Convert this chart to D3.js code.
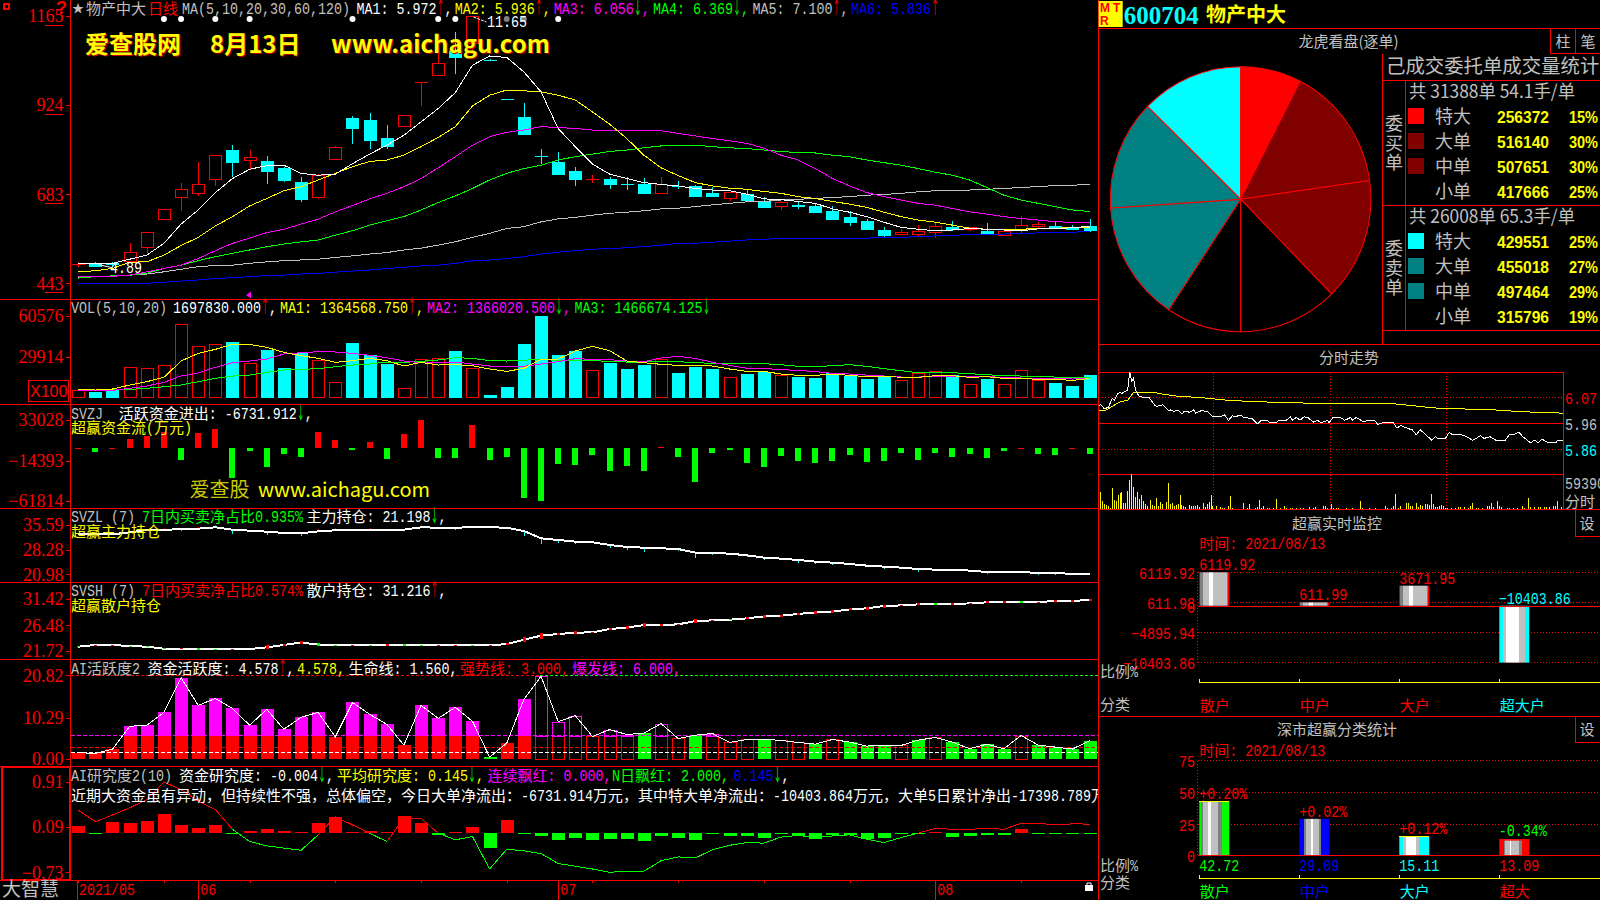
<!DOCTYPE html>
<html><head><meta charset="utf-8">
<style>html,body{margin:0;padding:0;background:#000;overflow:hidden}svg{display:block}text{white-space:pre}</style>
<script src="https://cdn.jsdelivr.net/npm/d3@7/dist/d3.min.js"></script>
</head><body><div id="c"></div>
<script>
// ---------- daily K line (price in 0.01 yuan, same unit as the chart's tick labels)
const candleOpen=[495,500,500,504,542,618,677,688,726,807,777,775,757,718,677,780,892,886,838,869,988,1006,1073,1091,1048,942,894,787,772,749,725,727,713,714,688,708,708,690,674,688,668,653,657,654,641,625,614,590,576,577,582,598,589,587,573,586,598,600,596,600];
const candleClose=[495,490,494,528,582,645,699,712,789,771,783,746,722,671,736,812,862,830,814,898,988,1037,1053,1165,1047,941,846,787,738,725,725,711,712,687,710,707,679,679,690,668,649,663,652,636,617,609,590,574,582,583,597,590,594,576,583,600,603,595,590,587];
const candleHigh=[501,501,501,551,582,645,713,771,789,816,803,787,758,729,738,814,895,902,870,898,988,1068,1122,1165,1048,942,930,806,798,756,736,730,729,727,729,720,708,704,690,695,675,665,665,659,651,637,617,595,590,600,605,611,594,606,589,625,609,609,600,617];
const candleLow=[488,488,488,504,524,616,639,680,707,731,749,711,717,663,672,776,820,806,807,868,922,1004,1008,1068,1047,941,846,765,738,707,713,698,695,684,684,698,679,679,665,668,646,641,644,636,614,598,587,565,573,568,565,585,583,574,571,580,592,590,587,582];
const candleUp=[1,0,0,1,1,1,1,1,1,0,1,0,0,0,1,1,0,0,0,1,1,1,0,1,0,0,0,0,0,0,1,0,0,0,1,0,0,0,1,0,0,1,0,0,0,0,0,0,1,1,1,0,1,0,1,1,1,0,0,0];
const ma1=[497,497,497,508,519,551,603,641,688,726,751,761,762,740,735,738,766,792,816,843,879,915,958,1032,1057,1053,1014,960,861,812,765,738,726,715,710,706,699,695,693,684,671,669,664,659,644,635,623,608,594,589,585,587,591,589,587,585,590,591,593,597];
const ma2=[474,477,483,500,501,519,545,567,598,623,652,672,693,704,722,740,758,772,776,789,812,837,866,922,951,965,963,960,951,938,906,873,834,789,755,734,715,706,700,697,691,686,677,672,664,657,648,635,623,614,608,600,592,589,589,589,591,592,593,594];
const ma3=[461,461,462,465,474,483,492,510,531,551,565,580,589,603,616,636,653,671,686,704,726,755,785,816,839,851,857,866,864,861,857,857,856,856,855,848,841,834,828,821,808,789,776,753,726,706,688,677,668,659,654,645,636,630,623,618,614,609,608,606];
const ma4=[457,461,463,465,470,483,492,504,515,524,533,542,549,555,560,573,585,600,612,623,641,661,679,699,722,740,753,762,776,785,792,799,803,809,814,816,816,812,809,807,803,799,796,795,789,785,776,769,762,753,743,735,722,702,681,668,659,650,641,637];
const ma5=[458,461,463,465,468,474,481,488,491,492,497,501,504,506,508,513,517,522,526,533,538,546,555,567,578,591,596,609,617,621,627,632,635,639,644,646,650,655,659,663,664,668,670,672,675,677,681,683,686,690,693,694,695,697,699,702,704,707,708,710];
const ma6=[443,443,443,443,443,446,449,452,456,458,461,464,465,468,470,473,476,479,483,486,490,492,497,504,506,510,515,522,527,531,535,537,539,542,546,551,551,554,557,560,562,564,564,564,564,565,565,567,567,569,571,573,574,575,576,578,579,580,581,583];
const starBars=[5,6,8,10,16,21,22,28];
const greyStarBars=[25,26];
const mainTicks=[1165,924,683,443];
// ---------- volume
const volume=[5000,4000,6250,22000,21250,23500,54250,37750,39250,41750,25000,35750,22250,33250,27250,10750,40750,32000,25000,6250,28000,28750,34750,21250,2000,8000,40250,61250,32000,35000,19750,26250,21500,24500,28000,18500,23000,21500,14500,17750,19000,16000,15500,14750,18500,16000,14000,15250,12250,17500,19000,16750,9250,14000,9250,19750,12250,11000,8750,16978];
const volMa1=[5500,5000,5750,8750,11250,14500,26750,32500,35500,39250,39250,37000,33250,30750,28750,25750,27000,28750,27000,23000,25750,23750,24000,23250,20750,19000,21250,28000,28250,34250,37750,34500,26750,25500,24250,23500,23500,23000,20750,19000,19000,17000,16000,16000,17000,16000,15000,15500,14500,14500,15750,15750,14500,15000,13750,13750,13000,13000,12250,13646];
const volMa2=[5000,4750,4750,6250,8000,10750,15500,17750,22000,25500,26750,28250,32000,33000,33750,33500,32500,31000,29250,26750,25500,26000,26000,24500,23000,22750,22750,24500,26250,28500,28000,27750,26750,26250,29000,30250,28750,25750,23500,21250,21250,20250,19750,18750,17500,17000,16250,15500,14750,14750,15000,15000,15000,15000,14500,14000,13500,13500,13250,13660];
const volMa3=[4500,4750,5000,5500,6250,7500,8750,11250,13750,15500,16250,18250,20000,20500,21000,22500,23750,24500,26000,25750,26500,27500,29250,28750,27000,26750,27250,28250,27000,27000,27000,26500,26000,26000,26250,26250,25500,25000,24750,24750,24750,24000,22750,22500,23250,24000,22750,21000,19500,18000,18000,18000,17250,16500,15750,15500,15000,14750,14250,14667];
const volTicks=[60576,29914];
// ---------- SVZJ
const svzj=[776,-4656,776,10864,14356,19012,-13580,17848,22504,-34532,-3104,-21728,-6596,-10088,19012,9700,-2328,7372,-12804,16684,32980,-11640,-11640,27160,-13968,-10476,-58200,-61304,-18624,-19788,-8148,-26772,-20952,-26772,1552,-10476,-39576,-5820,-2328,-17460,-22116,-9312,-15132,-17460,-15132,-8148,-16296,-15132,-5820,-13968,-5820,-10476,-6984,-11640,-3492,388,-6984,-8148,388,-6732];
const svzjTicks=[33028,-14393,-61814];
// ---------- SVZL / SVSH
const svzl=[32.83,32.83,32.83,33.42,34.11,34.21,34.31,34.50,34.90,34.21,33.91,33.62,33.22,33.12,33.71,34.01,34.11,34.21,34.11,34.21,34.90,34.80,34.70,35.10,34.90,34.80,33.81,31.64,31.15,30.66,30.46,29.67,29.08,28.88,28.68,28.48,27.40,27.30,27.10,26.61,25.92,25.62,25.23,24.73,24.44,24.04,23.55,23.25,22.96,22.56,22.36,22.36,22.07,21.67,21.67,21.67,21.38,21.38,21.08,21.198];
const svzlDelta=[0,0,0,0,0,.6,-.6,.6,.6,-1.2,0,-.9,0,-.7,.6,.6,-.3,.5,-.4,0,.8,-.4,-.5,.3,-.3,0,-1.5,-1.6,-.8,-.8,0,-.8,-.8,-1.2,.2,-.5,-1.5,-.6,-.3,-.4,-.8,-.5,-.8,-.8,-.8,-.3,-.3,-.8,-.3,-.8,-.3,-.5,-.5,-.6,-.3,.2,-.5,-.5,.2,0];
const svzlTicks=[35.59,28.28,20.98];
const svsh=[22.52,22.83,22.83,22.64,22.52,22.15,22.15,22.09,22.03,22.03,22.09,22.40,22.83,23.32,22.89,22.77,22.77,22.77,22.77,22.77,22.77,22.77,22.77,22.77,22.77,23.01,23.82,24.56,24.87,25.12,25.18,25.80,26.04,26.54,26.54,26.66,27.28,27.40,27.53,27.77,28.14,28.27,28.58,28.89,29.01,29.44,29.63,30.06,30.18,30.37,30.37,30.43,30.55,30.74,30.80,30.80,30.80,30.99,30.99,31.216];
const svshDelta=[-.12,.06,.06,-.12,-.3,-.2,.2,-.2,-.3,.3,0,.7,.2,.5,-.5,-.2,.2,-.3,.35,-.35,-.3,.3,.3,-.3,.2,.3,.85,1.1,.35,.55,.3,.55,.5,.8,.2,.3,.9,.3,-.2,.35,.55,.35,.35,.5,.55,.35,.55,.55,.3,.35,-.35,.35,.2,.35,.35,-.35,.2,.35,.35,.35];
const svshTicks=[31.42,26.48,21.72];
// ---------- AI activity
const activity=[1.56,1.40,2.47,8.15,8.39,11.60,20.25,13.33,15.06,12.59,8.39,12.35,7.41,10.37,11.60,5.51,14.07,11.11,8.64,3.46,13.33,10.12,12.84,9.38,0.49,3.95,14.81,20.58,9.30,10.78,5.60,7.32,6.09,6.42,8.81,5.10,5.93,6.34,4.12,4.86,4.94,4.61,4.12,3.70,4.86,4.20,3.21,3.46,3.37,4.69,5.35,4.20,2.55,3.70,2.55,5.84,3.46,2.96,2.47,4.578];
const activityKind="ssssssssssssssssssssssss"+"g"+"ss"+"hhhhhh"+"g"+"hh"+"g"+"hhh"+"g"+"hh"+"g"+"h"+"ggg"+"h"+"g"+"h"+"gggg"+"h"+"gggg";
const activityTicks=[20.82,10.29,0];
const burstLevel=5.84, strongLevel=2.88, lifeLevel=1.65, topLevel=20.82;
// ---------- AI research
const researchLine=[.40,.19,.31,.44,.59,.91,.77,.56,.41,.05,-.17,-.25,-.29,-.33,-.05,.28,.13,-.02,-.17,.25,.25,-.02,-.14,-.08,-.67,-.31,-.34,-.39,-.57,-.62,-.67,-.73,-.71,-.71,-.52,-.45,-.47,-.32,-.24,-.19,-.20,-.09,-.06,-.10,-.07,-.05,-.13,-.19,-.10,-.02,.07,.05,.05,.07,.05,.16,.16,.13,.15,.145];
const researchBars=[.138,-.006,.21,.192,.228,.354,.156,.102,.156,-.006,.048,.084,.048,.03,.192,.3,.03,.048,.03,.318,.192,-.03,.03,.12,-.258,.246,-.006,-.048,-.12,-.084,-.12,-.102,-.102,-.138,-.048,-.084,-.12,-.018,-.048,-.048,-.084,-.006,-.048,-.102,-.03,-.03,-.102,-.084,-.006,-.018,.03,-.072,-.048,-.03,-.03,.072,-.006,-.018,-.018,-.006];
const researchBase=-.024;
const researchTicks=[.91,.09,-.73];
// ---------- date axis
const dateBars=[0,7,28,50];
const dateLabels=["2021/05","06","07","08"];
// ---------- order pie
const pieNames=["特大","大单","中单","小单"];
const buyOrders=[256372,516140,507651,417666];
const buyPct=["15%","30%","30%","25%"];
const sellOrders=[429551,455018,497464,315796];
const sellPct=["25%","27%","29%","19%"];
// ---------- intraday
const priceMin=[0,1,3,5,7,8,10,11,12,15,16,17,18,19,21,26,29,30,33,36,37,39,41,43,44,47,49,50,53,56,59,63,65,67,69,71,73,75,79,82,84,87,88,92,93,97,99,100,102,104,106,108,111,113,115,118,119,121,125,127,130,131,133,137,139,143,144,147,152,154,156,159,162,164,166,168,172,174,175,179,181,183,186,189,193,195,197,199,202,205,210,212,214,217,219,223,225,227,229,232,236,237,240];
const priceVal=[6.034,6.041,6.023,6.03,6.065,6.058,6.086,6.09,6.086,6.10,6.173,6.135,6.149,6.10,6.072,6.069,6.037,6.033,6.04,6.016,6.019,6.013,6.019,6.002,6.013,6.01,6.019,6.006,6.016,6.013,5.991,5.991,5.999,5.977,5.995,5.992,5.999,5.988,5.985,5.963,5.977,5.977,5.97,5.97,5.978,5.978,5.991,5.978,5.988,5.978,5.991,5.988,5.97,5.977,5.967,5.977,5.967,5.989,5.988,5.977,5.988,5.978,5.989,5.97,5.977,5.974,5.96,5.968,5.968,5.946,5.956,5.946,5.938,5.918,5.939,5.925,5.897,5.911,5.904,5.904,5.928,5.918,5.921,5.915,5.897,5.904,5.915,5.904,5.911,5.897,5.897,5.918,5.918,5.929,5.911,5.886,5.897,5.886,5.901,5.886,5.886,5.897,5.893];
const avgMin=[0,4,7,11,15,18,28,33,40,54,68,83,99,123,152,161,173,188,203,212,224,240];
const avgVal=[6.016,6.019,6.034,6.051,6.058,6.09,6.09,6.083,6.075,6.068,6.057,6.052,6.048,6.044,6.044,6.037,6.027,6.023,6.02,6.015,6.01,6.006];
const tickMin=[1,2,3,4,5,6,7,8,9,10,11,12,13,14,15,16,17,18,19,20,21,22,23,24,25,27,28,29,30,31,32,33,35,36,37,38,39,40,41,42,43,44,45,47,48,49,50,51,52,54,55,56,57,58,59,61,63,64,65,67,68,69,75,77,78,81,82,83,84,85,87,88,90,92,94,96,97,99,100,102,104,106,109,111,112,116,117,118,120,121,123,124,128,131,135,136,140,143,148,149,151,152,153,155,156,159,160,161,162,164,165,166,167,169,170,171,172,173,174,175,176,177,178,179,180,182,184,186,187,189,191,192,193,195,196,198,201,202,203,204,206,207,208,211,212,214,216,219,220,222,223,225,227,228,230,231,233,235,236,237,239];
const tickVol=[28300,14200,8500,6800,4500,2300,35100,15800,14200,23800,26600,28300,10200,10200,31100,49200,59400,36800,19800,28300,17000,23800,13600,9100,5700,15800,6800,4500,18700,4500,12500,8500,11300,44100,8500,10200,4500,6800,8500,23800,6800,4500,3400,6800,4500,5700,4500,6800,2800,10200,2800,8500,11300,23800,4500,4500,2800,1700,1700,5700,21500,1700,10200,2300,8500,2300,3400,14700,2300,4500,1700,1700,1100,17000,1700,4500,1700,1700,2300,2300,1700,1700,3400,1700,2800,4500,4500,2300,8500,2300,1700,1700,1700,1700,13600,1700,1700,1700,4500,1700,1700,4500,25500,1700,4500,10200,10200,5700,5700,10200,3400,6800,5700,8500,8500,6800,25500,8500,3400,3400,4500,6800,4500,1700,1700,1700,1700,2800,2800,2800,2300,4500,10200,1700,1700,1700,4500,4500,10200,2800,14200,5700,3400,2300,1700,1700,1100,5700,1700,18100,3400,2800,2800,2800,2800,2800,2800,4500,4500,14200,2800];
// ---------- monitors
const monNames=["散户","中户","大户","超大户"];
const monValues=[6119.92,611.99,3671.95,-10403.86];
const monTicks=[6119.92,611.98,-4895.94,-10403.86];
const clsNames=["散户","中户","大户","超大"];
const clsValues=[42.72,29.09,15.11,13.09];
const clsDelta=["+0.20%","+0.02%","+0.12%","-0.34%"];
const clsTicks=[75,50,25,0];

// ================ drawing ================
const W=1600,H=900,RED="#ff0000",GREY="#c0c0c0",YEL="#ffff00",MAG="#ff00ff",GRN="#00ff00",CY="#00ffff",BLU="#0000ff",WHI="#ffffff";
const svg=d3.select("#c").append("svg").attr("width",W).attr("height",H).style("background","#000");
const defs=svg.append("defs");
defs.append("clipPath").attr("id","leftClip").append("rect").attr("x",0).attr("y",0).attr("width",1098).attr("height",H);
const CJK="'Noto Sans CJK SC'";
const HALF=8, FULL=15;
const RUNRE=/[↑↓]|[\u2E80-\uFFEF]+|[^\u2E80-\uFFEF↑↓]+/g;
const isCjk=c=>/[\u2E80-\uFFEF]/.test(c);
function segWidth(str){let w=0;for(const ch of str)w+=isCjk(ch)?FULL:HALF;return w;}
function flow(parent,x,yc,segs,opts){
  opts=opts||{};
  const total=segs.reduce((a,s)=>a+segWidth(s[0]),0);
  let cx=opts.right!==undefined?opts.right-total:x;
  const t=parent.append("text").attr("y",yc+5.5);
  for(const [str,col] of segs){
    for(const run of str.match(RUNRE)||[]){
      const s=t.append("tspan").attr("x",cx).attr("fill",col).text(run);
      if(isCjk(run[0])){s.attr("font-family",CJK).attr("font-size",FULL);}
      else if(run==="↑"||run==="↓"){s.attr("font-family",CJK).attr("font-size",18).attr("textLength",HALF).attr("lengthAdjust","spacingAndGlyphs");}
      else{s.attr("font-family","'Liberation Mono'").attr("font-size",16).attr("textLength",run.length*HALF).attr("lengthAdjust","spacingAndGlyphs");}
      cx+=segWidth(run);
    }
  }
  return t;
}
function hline(y,x1,x2,col,w,dash,g){const l=(g||svg).append("line").attr("x1",x1).attr("x2",x2).attr("y1",y).attr("y2",y).attr("stroke",col||RED).attr("stroke-width",w||1).attr("shape-rendering","crispEdges");if(dash)l.attr("stroke-dasharray",dash);return l;}
function vline(x,y1,y2,col,w,dash,g){const l=(g||svg).append("line").attr("x1",x).attr("x2",x).attr("y1",y1).attr("y2",y2).attr("stroke",col||RED).attr("stroke-width",w||1).attr("shape-rendering","crispEdges");if(dash)l.attr("stroke-dasharray",dash);return l;}

const N=candleOpen.length;
const xBar=d3.scaleLinear().domain([0,N-1]).range([78.2,1089.6]);
const idx=d3.range(N);
const AX=70.5, RX=1098.5;

function yAxis(scale,vals,fmt){
  const g=svg.append("g").attr("transform",`translate(${AX},0)`)
    .call(d3.axisLeft(scale).tickValues(vals).tickSize(5).tickPadding(2).tickFormat(fmt));
  g.select(".domain").remove();
  g.selectAll(".tick line").attr("stroke",RED).attr("shape-rendering","crispEdges");
  g.selectAll(".tick text").attr("fill",RED).attr("font-family","'Liberation Serif'").attr("font-size",18);
  return g;
}
function plot(data,y,col,w,g){
  (g||svg).append("path").attr("d",d3.line().x((d,i)=>xBar(i)).y(d=>y(d))(data)).attr("fill","none").attr("stroke",col).attr("stroke-width",w||1).attr("shape-rendering","crispEdges");
}
function px(v){return Math.round(v)+.5;}

// ------- main
const yMain=d3.scaleLinear().domain([443,1165]).range([283.3,16]);
const gC=svg.append("g");
const candleW=13;
idx.forEach(i=>{
  const cx=px(xBar(i)),up=candleUp[i],col=up?RED:CY;
  const top=Math.max(candleOpen[i],candleClose[i]),bot=Math.min(candleOpen[i],candleClose[i]);
  const yT=px(yMain(top)),yB=px(yMain(bot));
  vline(cx,yMain(candleHigh[i]),yT,col,1,null,gC);
  vline(cx,yB,yMain(candleLow[i]),col,1,null,gC);
  if(yB-yT<1){hline(yT,cx-candleW/2,cx+candleW/2,col,1,null,gC);}
  else if(up){gC.append("rect").attr("x",cx-6).attr("y",yT).attr("width",12).attr("height",yB-yT).attr("fill","#000").attr("stroke",col).attr("shape-rendering","crispEdges");}
  else{gC.append("rect").attr("x",cx-6.5).attr("y",yT).attr("width",13).attr("height",yB-yT).attr("fill",col).attr("shape-rendering","crispEdges");}
});
[[ma6,BLU],[ma5,GREY],[ma4,GRN],[ma3,MAG],[ma2,YEL],[ma1,WHI]].forEach(([d,c])=>plot(d,yMain,c,1));
starBars.forEach(i=>svg.append("circle").attr("cx",xBar(i)).attr("cy",19).attr("r",3).attr("fill",WHI));
greyStarBars.forEach(i=>svg.append("circle").attr("cx",xBar(i)).attr("cy",19).attr("r",3).attr("fill","#808080"));
yAxis(yMain,mainTicks,d3.format("d"));
mainTicks.forEach(v=>hline(yMain(v)+9,45,63,RED));
// high / low annotation
svg.append("path").attr("d",`M${xBar(23)+1},${yMain(1165)+1}L${xBar(23)+14},${yMain(1165)+6}`).attr("stroke",WHI).attr("stroke-dasharray","3,1").attr("fill","none");
flow(svg,487,21.7,[["11.65",WHI]]);
svg.append("path").attr("d",`M${xBar(1)+3},${yMain(488)-2}L${xBar(1)+17},${yMain(488)+1}`).attr("stroke",WHI).attr("fill","none");
flow(svg,110,267,[["4.89",WHI]]);
// legend
svg.append("text").attr("x",72).attr("y",13).attr("fill",GREY).attr("font-family",CJK).attr("font-size",12).text("★");
flow(svg,86,8,[["物产中大",GREY]]);
flow(svg,148,8,[["日线",RED]]);
flow(svg,182,8,[["MA(5,10,20,30,60,120)",GREY]]);
flow(svg,356.5,8,[["MA1: 5.972",WHI],["↑",RED],[",",WHI]]);
flow(svg,454.7,8,[["MA2: 5.936",YEL],["↑",RED],[",",YEL]]);
flow(svg,553.8,8,[["MA3: 6.056",MAG],["↓",GRN],[",",MAG]]);
flow(svg,653,8,[["MA4: 6.369",GRN],["↓",GRN],[",",GRN]]);
flow(svg,752.5,8,[["MA5: 7.100",GREY],["↑",RED],[",",GREY]]);
flow(svg,851,8,[["MA6: 5.836",BLU],["↑",RED]]);
// corner marks
svg.append("rect").attr("x",3.5).attr("y",3.5).attr("width",5).attr("height",5).attr("fill","none").attr("stroke",RED).attr("stroke-width",2).attr("shape-rendering","crispEdges");
svg.append("text").attr("x",56).attr("y",14).attr("fill",RED).attr("font-family","'Liberation Sans'").attr("font-weight","bold").attr("font-size",18).text("?");
// watermark
function wm(x,txt,size){
  svg.append("text").attr("x",x+1).attr("y",54).attr("fill","#c00000").attr("font-family",CJK).attr("font-weight","bold").attr("font-size",size).text(txt);
  svg.append("text").attr("x",x).attr("y",53).attr("fill",YEL).attr("font-family",CJK).attr("font-weight","bold").attr("font-size",size).text(txt);
}
wm(85,"爱查股网",24);wm(210,"8月13日",24);wm(331,"www.aichagu.com",24);

// ------- volume
const yVol=d3.scaleLinear().domain([0,60576]).range([396.7,315.9]);
idx.forEach(i=>{
  const cx=px(xBar(i)),up=candleUp[i],t=px(yVol(volume[i])),b=px(yVol(0));
  if(up)svg.append("rect").attr("x",cx-6).attr("y",t).attr("width",12).attr("height",b-t).attr("fill","none").attr("stroke",RED).attr("shape-rendering","crispEdges");
  else svg.append("rect").attr("x",cx-6.5).attr("y",t).attr("width",13).attr("height",b-t+.5).attr("fill",CY).attr("shape-rendering","crispEdges");
});
[[volMa3,GRN],[volMa2,MAG],[volMa1,YEL]].forEach(([d,c])=>plot(d,yVol,c,1));
yAxis(yVol,volTicks,d3.format("d"));
svg.append("rect").attr("x",28.5).attr("y",380.5).attr("width",40).attr("height",21).attr("fill","none").attr("stroke",RED).attr("shape-rendering","crispEdges");
svg.append("text").attr("x",30).attr("y",397).attr("fill",RED).attr("font-family","'Liberation Sans'").attr("font-size",16).text("X100");
flow(svg,71,307.3,[["VOL(5,10,20)",GREY]]);
flow(svg,173,307.3,[["1697830.000",WHI],["↑",RED],[",",WHI]]);
flow(svg,280,307.3,[["MA1: 1364568.750",YEL],["↑",RED],[",",YEL]]);
flow(svg,427,307.3,[["MA2: 1366020.500",MAG],["↓",GRN],[",",MAG]]);
flow(svg,574.4,307.3,[["MA3: 1466674.125",GRN],["↓",GRN]]);
svg.append("path").attr("d","M246,295L251,291.5V298.5Z").attr("fill",MAG);

// ------- svzj
const ySvzj=d3.scaleLinear().domain([-61814,33028]).range([501,420]);
idx.forEach(i=>{
  const v=svzj[i],y0=ySvzj(0),y1=ySvzj(v);
  svg.append("rect").attr("x",Math.round(xBar(i))-3).attr("width",6).attr("y",Math.min(y0,y1)).attr("height",Math.max(Math.abs(y1-y0),1)).attr("fill",v>=0?RED:GRN).attr("shape-rendering","crispEdges");
});
yAxis(ySvzj,svzjTicks,d3.format("d"));
flow(svg,71,413.3,[["SVZJ",GREY]]);
flow(svg,118.8,413.3,[["活跃资金进出: -6731.912",WHI],["↓",GRN],[",",WHI]]);
flow(svg,71,427.3,[["超赢资金流(万元)",YEL]]);
svg.append("text").attr("x",189.5).attr("y",497).attr("fill","#c8c800").attr("font-family",CJK).attr("font-size",20).text("爱查股");
svg.append("text").attr("x",258).attr("y",497).attr("fill",YEL).attr("font-family",CJK).attr("font-size",20).attr("textLength",172).attr("lengthAdjust","spacingAndGlyphs").text("www.aichagu.com");

// ------- svzl
const ySvzl=d3.scaleLinear().domain([20.98,35.59]).range([574.3,525]);
idx.forEach(i=>{const d=svzlDelta[i];if(d)vline(px(xBar(i)),ySvzl(svzl[i]),ySvzl(svzl[i]+d),d>0?RED:CY,1);});
plot(svzl,ySvzl,WHI,2);
yAxis(ySvzl,svzlTicks,d3.format(".2f"));
flow(svg,71,516.7,[["SVZL (7)",GREY]]);
flow(svg,142,516.7,[["7日内买卖净占比0.935%",GRN]]);
flow(svg,306.6,516.7,[["主力持仓: 21.198",WHI],["↓",GRN],[",",WHI]]);
flow(svg,71,531.7,[["超赢主力持仓",YEL]]);

// ------- svsh
const ySvsh=d3.scaleLinear().domain([21.72,31.42]).range([651,598.7]);
plot(svsh,ySvsh,WHI,2);
idx.forEach(i=>{const d=svshDelta[i];if(!d)return;const a=ySvsh(svsh[i]+Math.abs(d)/2),b=ySvsh(svsh[i]-Math.abs(d)/2);
  svg.append("rect").attr("x",Math.round(xBar(i))-1.5).attr("width",3).attr("y",a).attr("height",Math.max(b-a,1)).attr("fill",d>0?RED:GRN).attr("shape-rendering","crispEdges");});
yAxis(ySvsh,svshTicks,d3.format(".2f"));
flow(svg,71,590.7,[["SVSH (7)",GREY]]);
flow(svg,142,590.7,[["7日内买卖净占比0.574%",RED]]);
flow(svg,306.6,590.7,[["散户持仓: 31.216",WHI],["↑",RED],[",",WHI]]);
flow(svg,71,605.7,[["超赢散户持仓",YEL]]);

// ------- activity
const yAct=d3.scaleLinear().domain([0,20.82]).range([759,675.3]);
idx.forEach(i=>{
  const v=activity[i],k=activityKind[i],cx=px(xBar(i)),b=yAct(0),t=yAct(v),m=yAct(burstLevel);
  if(k==='g'){svg.append("rect").attr("x",cx-6.5).attr("width",13).attr("y",t).attr("height",b-t).attr("fill",GRN).attr("shape-rendering","crispEdges");}
  else if(k==='s'){
    svg.append("rect").attr("x",cx-6.5).attr("width",13).attr("y",Math.max(t,m)).attr("height",b-Math.max(t,m)).attr("fill",RED).attr("shape-rendering","crispEdges");
    if(v>burstLevel)svg.append("rect").attr("x",cx-6.5).attr("width",13).attr("y",t).attr("height",m-t).attr("fill",MAG).attr("shape-rendering","crispEdges");
  }else{
    svg.append("rect").attr("x",cx-6).attr("width",12).attr("y",px(Math.max(t,m))).attr("height",px(b)-px(Math.max(t,m))).attr("fill","none").attr("stroke",RED).attr("shape-rendering","crispEdges");
    if(v>burstLevel)svg.append("rect").attr("x",cx-6).attr("width",12).attr("y",px(t)).attr("height",px(m)-px(t)).attr("fill","none").attr("stroke",MAG).attr("shape-rendering","crispEdges");
  }
});
hline(yAct(burstLevel),71,RX,MAG,1,"4,2");
hline(yAct(strongLevel),71,RX,RED,1,"4,2");
hline(yAct(lifeLevel),71,RX,WHI,1,"4,2");
hline(yAct(topLevel),71,540,RED,1,"3,2");
hline(yAct(topLevel),540,RX,GRN,1,"3,2");
plot(activity,yAct,WHI,1);
yAxis(yAct,activityTicks,d3.format(".2f"));
flow(svg,71,668.3,[["AI活跃度2",GREY]]);
flow(svg,147.4,668.3,[["资金活跃度: 4.578",WHI],["↑",RED],[",",WHI]]);
flow(svg,297,668.3,[["4.578,",YEL]]);
flow(svg,348.6,668.3,[["生命线: 1.560,",WHI]]);
flow(svg,460,668.3,[["强势线: 3.000,",RED]]);
flow(svg,572,668.3,[["爆发线: 6.000,",MAG]]);

// ------- research
const yRes=d3.scaleLinear().domain([-.73,.91]).range([872.3,782]);
idx.forEach(i=>{
  const v=researchBars[i],y0=yRes(researchBase),y1=yRes(researchBase+v);
  svg.append("rect").attr("x",Math.round(xBar(i))-6.5).attr("width",13).attr("y",Math.min(y0,y1)).attr("height",Math.max(Math.abs(y1-y0),1)).attr("fill",v>=0?RED:GRN).attr("shape-rendering","crispEdges");
});
d3.pairs(idx).forEach(([a,b])=>{
  const col=(researchLine[a]+researchLine[b])/2>researchBase?RED:GRN;
  svg.append("path").attr("d",d3.line().x(i=>xBar(i)).y(i=>yRes(researchLine[i]))([a,b])).attr("stroke",col).attr("fill","none").attr("shape-rendering","crispEdges");
});
yAxis(yRes,researchTicks,d3.format(".2f"));
flow(svg,71,775,[["AI研究度2(10)",GREY]]);
flow(svg,179,775,[["资金研究度: -0.004",WHI],["↓",GRN],[",",WHI]]);
flow(svg,337,775,[["平均研究度: 0.145",YEL],["↓",GRN],[",",YEL]]);
flow(svg,487.4,775,[["连续飘红: 0.000,",MAG]]);
flow(svg,612,775,[["N日飘红: 2.000,",GRN]]);
flow(svg,733.6,775,[["0.145",BLU],["↓",GRN],[",",WHI]]);
flow(svg.append("g").attr("clip-path","url(#leftClip)"),71,795,[["近期大资金虽有异动，但持续性不强，总体偏空，今日大单净流出：-6731.914万元，其中特大单净流出：-10403.864万元，大单5日累计净出-17398.789万",WHI]]);

// ------- frame of the left side
[299.5,404.5,508.5,582.5,659.5,766.5,880.5].forEach(y=>hline(y,0,RX,RED,1));
vline(AX,0,880,RED,1);
svg.append("rect").attr("x",1.5).attr("y",767).attr("width",68.5).attr("height",113).attr("fill","none").attr("stroke",RED).attr("stroke-width",2).attr("shape-rendering","crispEdges");
vline(RX,0,H,RED,1);
// date axis
vline(77.5,880,H,RED,1);
dateBars.forEach((b,i)=>{
  const x=xBar(b);
  if(i)vline(px(x),880,H,RED,1);
  flow(svg,i?x+2:79,889,[[dateLabels[i],RED]]);
});
idx.filter(i=>i%5===0).forEach(i=>vline(px(xBar(i)),880,883,RED,1));
svg.append("text").attr("x",2).attr("y",896).attr("fill",GREY).attr("font-family",CJK).attr("font-size",19).text("大智慧");
svg.append("rect").attr("x",1085).attr("y",885).attr("width",8).attr("height",6).attr("fill",WHI);
svg.append("path").attr("d","M1087,885V883H1091V885").attr("fill","none").attr("stroke",WHI);

// ------- right header
svg.append("rect").attr("x",1098.7).attr("y",1).attr("width",24).attr("height",26).attr("fill",YEL);
[["M",1100,12],["T",1113,12],["R",1100,25]].forEach(([c,x,y])=>svg.append("text").attr("x",x).attr("y",y).attr("fill",RED).attr("font-family","'Liberation Sans'").attr("font-weight","bold").attr("font-size",12).text(c));
svg.append("text").attr("x",1123.7).attr("y",24).attr("fill",CY).attr("font-family","'Liberation Serif'").attr("font-weight","bold").attr("font-size",25).text("600704");
svg.append("text").attr("x",1206).attr("y",22).attr("fill",YEL).attr("font-family",CJK).attr("font-weight","bold").attr("font-size",20).text("物产中大");
hline(28.5,RX,W,RED,1);
function title(txt,x,y){svg.append("text").attr("x",x).attr("y",y+5.5).attr("text-anchor","middle").attr("fill",GREY).attr("font-family",CJK).attr("font-size",15).text(txt);}
title("龙虎看盘(逐单)",1348.5,41);
vline(1550.5,28.5,53.5,RED,1);vline(1575.5,28.5,53.5,RED,1);hline(53.5,1550.5,W,RED,1);
title("柱",1563,41);title("笔",1588,41);

// ------- pie
const pieData=buyOrders.concat(sellOrders.slice().reverse());
const pieColor=[RED,"#800000","#800000","#000000","#000000","#008080","#008080",CY];
const pieGen=d3.pie().sort(null).value(d=>d);
const arc=d3.arc().innerRadius(0).outerRadius(130.3);
svg.append("g").attr("transform","translate(1240.6,199.2) scale(1,1.017)").selectAll("path").data(pieGen(pieData)).join("path")
  .attr("d",arc).attr("fill",(d,i)=>pieColor[i]).attr("stroke",RED).attr("stroke-width",1);

// ------- table
vline(1382.5,54,344,RED,1);
hline(80.5,1382,W,RED,1);hline(205.5,1382,W,RED,1);hline(330.5,1382,W,RED,1);
vline(1405.5,80,330,RED,1);
svg.append("text").attr("x",1386).attr("y",73).attr("fill",GREY).attr("font-family",CJK).attr("font-size",19.4).text("己成交委托单成交量统计");
["委","买","单"].forEach((c,i)=>svg.append("text").attr("x",1385).attr("y",[130,150,169][i]).attr("fill",GREY).attr("font-family",CJK).attr("font-size",18).text(c));
["委","卖","单"].forEach((c,i)=>svg.append("text").attr("x",1385).attr("y",[255,275,294][i]).attr("fill",GREY).attr("font-family",CJK).attr("font-size",18).text(c));
function tableBlock(y0,head,vals,pcts,cols){
  svg.append("text").attr("x",1409).attr("y",y0+6).attr("fill",GREY).attr("font-family",CJK).attr("font-size",18).attr("textLength",166).attr("lengthAdjust","spacingAndGlyphs").text(head);
  vals.forEach((v,i)=>{
    const y=y0+24.5+i*25;
    if(cols[i])svg.append("rect").attr("x",1408).attr("y",y-8).attr("width",16).attr("height",16).attr("fill",cols[i]);
    svg.append("text").attr("x",1435).attr("y",y+6.5).attr("fill",GREY).attr("font-family",CJK).attr("font-size",18).text(pieNames[i]);
    svg.append("text").attr("x",1497).attr("y",y+6.5).attr("fill",YEL).attr("font-family","'Liberation Sans'").attr("font-weight","bold").attr("font-size",17).attr("textLength",52).attr("lengthAdjust","spacingAndGlyphs").text(v);
    svg.append("text").attr("x",1569).attr("y",y+6.5).attr("fill",YEL).attr("font-family","'Liberation Sans'").attr("font-weight","bold").attr("font-size",17).attr("textLength",29).attr("lengthAdjust","spacingAndGlyphs").text(pcts[i]);
  });
}
tableBlock(91.5,"共 31388单 54.1手/单",buyOrders,buyPct,[RED,"#800000","#800000",null]);
tableBlock(216.5,"共 26008单 65.3手/单",sellOrders,sellPct,[CY,"#008080","#008080",null]);

// ------- intraday
hline(344.5,RX,W,RED,1);
title("分时走势",1349,357);
const xMin=d3.scaleLinear().domain([0,240]).range([1098.7,1563.5]);
const yPx=d3.scaleLinear().domain([5.86,6.07]).range([449.3,397.3]);
const yTv=d3.scaleLinear().domain([0,59390]).range([509,474.3]);
svg.append("rect").attr("x",RX).attr("y",372.5).attr("width",1563.5-RX).attr("height",136.5).attr("fill","none").attr("stroke",RED).attr("shape-rendering","crispEdges");
hline(423.5,RX,1563.5,RED,1);hline(474.5,RX,1563.5,RED,1);
hline(397.5,RX,1563.5,RED,1,"1,2");hline(449.5,RX,1563.5,RED,1,"1,2");
[59,119.5,179.5].forEach(m=>vline(px(xMin(m)),372.5,509,RED,1,"1,2"));
tickMin.forEach((m,i)=>vline(xMin(m),yTv(tickVol[i]),509,YEL,1));
svg.append("path").attr("d",d3.line().x((d,i)=>xMin(avgMin[i])).y(d=>yPx(d))(avgVal)).attr("fill","none").attr("stroke",YEL).attr("shape-rendering","crispEdges");
svg.append("path").attr("d",d3.line().x((d,i)=>xMin(priceMin[i])).y(d=>yPx(d))(priceVal)).attr("fill","none").attr("stroke",WHI).attr("shape-rendering","crispEdges");
flow(svg,1565,398,[["6.07",RED]]);flow(svg,1565,424,[["5.96",GREY]]);flow(svg,1565,450,[["5.86",CY]]);
flow(svg,1565,483,[["59390",GREY]]);flow(svg,1565,501,[["分时",GREY]]);

// ------- monitor
hline(509.5,RX,W,RED,1);
vline(1575,509,536,RED,1);hline(536,1575,W,RED,1);
title("超赢实时监控",1337,523.3);title("设",1587,523.3);
flow(svg,1199.3,543.3,[["时间: 2021/08/13",RED]]);
const yMon=d3.scaleLinear().domain([-10403.86,6119.92]).range([662.6,572.3]);
const barX=d3.scaleBand().domain(d3.range(4)).range([1199.3,1599.3]).paddingInner(0);
monTicks.forEach(v=>{hline(yMon(v),1198,W,RED,1,"1,2");flow(svg,0,yMon(v)+1,[[d3.format(".2f")(v),RED]],{right:1195});});
flow(svg,1187,607,[["0",RED]]);
vline(1197.5,572.3,662.6,RED,1,"1,2");
let gradId=0;
function bandGrad(stops){
  const id="g"+(gradId++),g=defs.append("linearGradient").attr("id",id);
  let prev=0;
  stops.forEach(([o,c])=>{g.append("stop").attr("offset",prev).attr("stop-color",c);g.append("stop").attr("offset",o).attr("stop-color",c);prev=o;});
  return "url(#"+id+")";
}
const silver="#c0c0c0",dark="#808080";
const redBand=bandGrad([[.03,RED],[.11,dark],[.31,silver],[.46,WHI],[.91,silver],[.94,dark],[1,RED]]);
const cyanBand=bandGrad([[.11,CY],[.22,silver],[.67,WHI],[.84,silver],[1,CY]]);
monValues.forEach((v,i)=>{
  const x=barX(i),y0=yMon(0),y1=yMon(v);
  svg.append("rect").attr("x",x).attr("width",30).attr("y",Math.min(y0,y1)).attr("height",Math.abs(y1-y0)).attr("fill",v>=0?redBand:cyanBand);
});
hline(606.5,1198,W,RED,1);
[564,594.3,578.3,598].forEach((y,i)=>flow(svg,barX(i)-(i==3?.6:0),y,[[d3.format(".2f")(monValues[i]),i==3?CY:RED]]));
function bracket(y){
  hline(y,1199.3,W,YEL,1);
  d3.range(4).forEach(i=>vline(barX(i)+.2,y-4,y,YEL,1));
}
bracket(682.5);
flow(svg,1100,671.7,[["比例%",GREY]]);flow(svg,1100,704,[["分类",GREY]]);
monNames.forEach((n,i)=>flow(svg,barX(i)+.5,705.7,[[n,i==3?CY:RED]]));

// ------- class stats
hline(716.5,RX,W,RED,1);
vline(1575,717,742,RED,1);hline(742,1575,W,RED,1);
title("深市超赢分类统计",1337,729.3);title("设",1587,729.3);
flow(svg,1199.3,750,[["时间: 2021/08/13",RED]]);
const yCls=d3.scaleLinear().domain([0,75]).range([855.7,760.7]);
clsTicks.forEach(v=>{if(v)hline(yCls(v),1198,W,RED,1,"1,2");flow(svg,0,yCls(v)+1,[[String(v),RED]],{right:1195});});
vline(1197.5,760.7,855.7,RED,1,"1,2");
const clsColor=[GRN,BLU,CY,RED];
const clsDeltaCol=[RED,RED,RED,GRN];
const clsDeltaY=[793,811,828,830];
const clsFill=[
  bandGrad([[.07,GRN],[.13,dark],[.3,silver],[.38,WHI],[.63,silver],[.75,dark],[1,GRN]]),
  bandGrad([[.15,BLU],[.23,dark],[.4,silver],[.47,WHI],[.65,silver],[.73,dark],[1,BLU]]),
  bandGrad([[.11,CY],[.22,silver],[.55,WHI],[.67,silver],[1,CY]]),
  bandGrad([[.15,RED],[.2,dark],[.36,silver],[.4,WHI],[.67,silver],[.74,dark],[1,RED]])
];
clsValues.forEach((v,i)=>{
  const x=barX(i),y1=yCls(v),y0=yCls(0);
  svg.append("rect").attr("x",x).attr("width",30).attr("y",y1).attr("height",y0-y1).attr("fill",clsFill[i]);
  if(i===0||i===2)hline(y1,x,x+30,YEL,1);
  if(i===3)svg.append("rect").attr("x",x).attr("width",30).attr("y",y1).attr("height",1.5).attr("fill",RED);
  flow(svg,x-(i==3?.6:0),clsDeltaY[i],[[clsDelta[i],clsDeltaCol[i]]]);
  flow(svg,x,865,[[d3.format(".2f")(v),clsColor[i]]]);
  flow(svg,x+.5,891,[[clsNames[i],clsColor[i]]]);
});
hline(855.5,1198,W,RED,1);
bracket(878.5);
flow(svg,1100,865,[["比例%",GREY]]);flow(svg,1100,882,[["分类",GREY]]);
</script></body></html>
